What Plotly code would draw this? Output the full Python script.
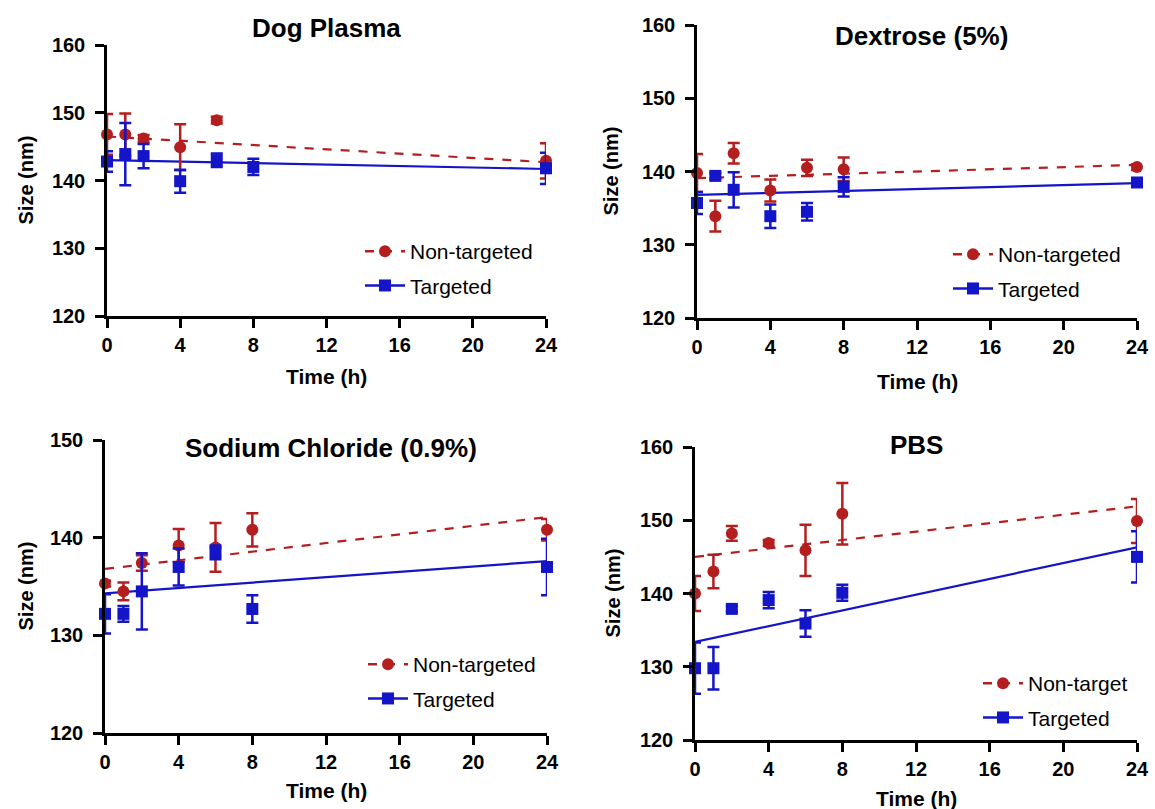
import plotly.graph_objects as go

W, H = 1155, 809

# ---------------- data ----------------
time = [0, 1, 2, 4, 6, 8, 24]
fit_x = [0, 24]
x_ticks = [0, 4, 8, 12, 16, 20, 24]

# Dog Plasma
dog_nt_x = [0, 1, 2, 4, 6, 24]
dog_nt_y = [146.8, 146.8, 146.2, 144.9, 148.9, 142.9]
dog_nt_err = [3.0, 3.1, 0.5, 3.4, 0.5, 2.6]
dog_t_y = [142.8, 143.9, 143.6, 139.9, 143.0, 142.0, 141.8]
dog_t_err = [1.5, 4.6, 1.8, 1.7, 1.0, 1.2, 2.3]
dog_nt_fit = [146.5, 142.7]
dog_t_fit = [143.0, 141.7]

# Dextrose (5%)
dex_nt_y = [139.8, 133.9, 142.5, 137.4, 140.5, 140.3, 140.6]
dex_nt_err = [2.6, 2.1, 1.4, 1.5, 1.1, 1.6, 0.4]
dex_t_y = [135.7, 139.4, 137.5, 133.9, 134.5, 137.9, 138.5]
dex_t_err = [1.5, 0.4, 2.4, 1.6, 1.2, 1.3, 0.4]
dex_nt_fit = [139.1, 140.9]
dex_t_fit = [136.8, 138.4]

# Sodium Chloride (0.9%)
nacl_nt_y = [135.3, 134.5, 137.4, 139.2, 139.0, 140.8, 140.8]
nacl_nt_err = [0.3, 0.9, 0.8, 1.7, 2.5, 1.7, 1.1]
nacl_t_y = [132.2, 132.2, 134.5, 137.0, 138.5, 132.7, 137.0]
nacl_t_err = [2.0, 0.8, 3.9, 1.9, 0.7, 1.4, 2.9]
nacl_nt_fit = [136.8, 142.1]
nacl_t_fit = [134.3, 137.6]

# PBS
pbs_nt_y = [140.0, 143.0, 148.2, 146.9, 145.9, 150.9, 149.9]
pbs_nt_err = [2.4, 2.3, 1.0, 0.4, 3.5, 4.2, 3.0]
pbs_t_y = [129.8, 129.8, 137.9, 139.1, 135.9, 140.1, 145.0]
pbs_t_err = [3.5, 2.9, 0.4, 1.1, 1.8, 1.1, 3.5]
pbs_nt_fit = [145.0, 151.9]
pbs_t_fit = [133.4, 146.3]

titles = ["Dog Plasma", "Dextrose (5%)", "Sodium Chloride (0.9%)", "PBS"]
nt_names = ["Non-targeted", "Non-targeted", "Non-targeted", "Non-target"]
t_name = "Targeted"
y_ranges = [[120, 160], [120, 160], [120, 150], [120, 160]]
y_dticks = [10, 10, 10, 10]

panels = [
    dict(nt_x=dog_nt_x, nt_y=dog_nt_y, nt_e=dog_nt_err, t_y=dog_t_y, t_e=dog_t_err,
         nt_fit=dog_nt_fit, t_fit=dog_t_fit),
    dict(nt_x=time, nt_y=dex_nt_y, nt_e=dex_nt_err, t_y=dex_t_y, t_e=dex_t_err,
         nt_fit=dex_nt_fit, t_fit=dex_t_fit),
    dict(nt_x=time, nt_y=nacl_nt_y, nt_e=nacl_nt_err, t_y=nacl_t_y, t_e=nacl_t_err,
         nt_fit=nacl_nt_fit, t_fit=nacl_t_fit),
    dict(nt_x=time, nt_y=pbs_nt_y, nt_e=pbs_nt_err, t_y=pbs_t_y, t_e=pbs_t_err,
         nt_fit=pbs_nt_fit, t_fit=pbs_t_fit),
]

# ---------------- layout geometry (pixels) ----------------
# plot-area boxes: (left, right, top, bottom)
boxes = [(107, 546, 45, 316), (697, 1137, 25, 318), (105, 547, 440, 733), (695, 1137, 447, 740)]
legend_pos = [(360, 231), (948, 234), (363, 644), (978, 663)]
title_pos = [(326, 28), (921, 36), (331, 448), (916, 445)]
xtitle_y = [376, 381, 790, 798]
ytitle_x = [25, 610, 25, 612]

RED = "#B41E1E"
BLUE = "#1414C8"
FONT = "Liberation Sans, Arial, sans-serif"

def px(x):
    return x / W

def py(y):
    return 1 - y / H

fig = go.Figure()
annotations = []

for i, p in enumerate(panels):
    k = "" if i == 0 else str(i + 1)
    xa, ya = "x" + k, "y" + k
    leg = "legend" + k
    # fit lines
    fig.add_trace(go.Scatter(x=fit_x, y=p["t_fit"], mode="lines", xaxis=xa, yaxis=ya,
                             line=dict(color=BLUE, width=2.2), showlegend=False,
                             hoverinfo="skip"))
    fig.add_trace(go.Scatter(x=fit_x, y=p["nt_fit"], mode="lines", xaxis=xa, yaxis=ya,
                             line=dict(color=RED, width=2.2, dash="dash"), showlegend=False,
                             hoverinfo="skip"))
    # data points
    fig.add_trace(go.Scatter(x=p["nt_x"], y=p["nt_y"], mode="markers", xaxis=xa, yaxis=ya,
                             marker=dict(color=RED, size=12, symbol="circle"),
                             error_y=dict(type="data", array=p["nt_e"], color=RED,
                                          thickness=2.5, width=6),
                             cliponaxis=False, showlegend=False))
    fig.add_trace(go.Scatter(x=time, y=p["t_y"], mode="markers", xaxis=xa, yaxis=ya,
                             marker=dict(color=BLUE, size=12, symbol="square"),
                             error_y=dict(type="data", array=p["t_e"], color=BLUE,
                                          thickness=2.5, width=6),
                             cliponaxis=False, showlegend=False))
    # legend entries
    fig.add_trace(go.Scatter(x=[None], y=[None], mode="lines+markers", xaxis=xa, yaxis=ya,
                             name=nt_names[i], legend=leg, legendgroup="a" + k,
                             line=dict(color=RED, width=2.5, dash="dash"),
                             marker=dict(color=RED, size=12, symbol="circle")))
    fig.add_trace(go.Scatter(x=[None], y=[None], mode="lines+markers", xaxis=xa, yaxis=ya,
                             name=t_name, legend=leg, legendgroup="b" + k,
                             line=dict(color=BLUE, width=2.5),
                             marker=dict(color=BLUE, size=12, symbol="square")))

    l, r, t, b = boxes[i]
    axis_common = dict(showline=True, linecolor="black", linewidth=2.5, ticks="outside",
                       ticklen=9, tickwidth=2.5, tickcolor="black", showgrid=False,
                       zeroline=False, mirror=False, automargin=False,
                       tickfont=dict(family=FONT, size=20, color="black", weight="bold"))
    fig.update_layout(**{
        "xaxis" + k: dict(domain=[px(l), px(r)], range=[0, 24], tickvals=x_ticks,
                          anchor=ya, fixedrange=True, **axis_common),
        "yaxis" + k: dict(domain=[py(b), py(t)], range=y_ranges[i], dtick=y_dticks[i],
                          tick0=120, anchor=xa, fixedrange=True, ticklabelstandoff=6,
                          **axis_common),
        leg: dict(x=px(legend_pos[i][0]), y=py(legend_pos[i][1]), xanchor="left",
                  yanchor="top", bgcolor="rgba(0,0,0,0)", tracegroupgap=4,
                  font=dict(family=FONT, size=21, color="black"), itemwidth=40),
    })
    # titles
    annotations.append(dict(text="<b>%s</b>" % titles[i], x=px(title_pos[i][0]),
                            y=py(title_pos[i][1]), xref="paper", yref="paper",
                            showarrow=False, xanchor="center", yanchor="middle",
                            font=dict(family=FONT, size=26, color="black")))
    annotations.append(dict(text="<b>Time (h)</b>", x=px((l + r) / 2), y=py(xtitle_y[i]),
                            xref="paper", yref="paper", showarrow=False,
                            xanchor="center", yanchor="middle",
                            font=dict(family=FONT, size=21, color="black")))
    annotations.append(dict(text="<b>Size (nm)</b>", x=px(ytitle_x[i]), y=py((t + b) / 2),
                            xref="paper", yref="paper", showarrow=False, textangle=-90,
                            xanchor="center", yanchor="middle",
                            font=dict(family=FONT, size=20, color="black")))

fig.update_layout(width=W, height=H,
                  margin=dict(l=0, r=0, t=0, b=0, pad=0, autoexpand=False),
                  paper_bgcolor="white", plot_bgcolor="white",
                  annotations=annotations, showlegend=True)

fig.write_html("out.html", config={"displayModeBar": False},
               post_script="document.body.style.margin='0';document.body.style.overflow='hidden';")
